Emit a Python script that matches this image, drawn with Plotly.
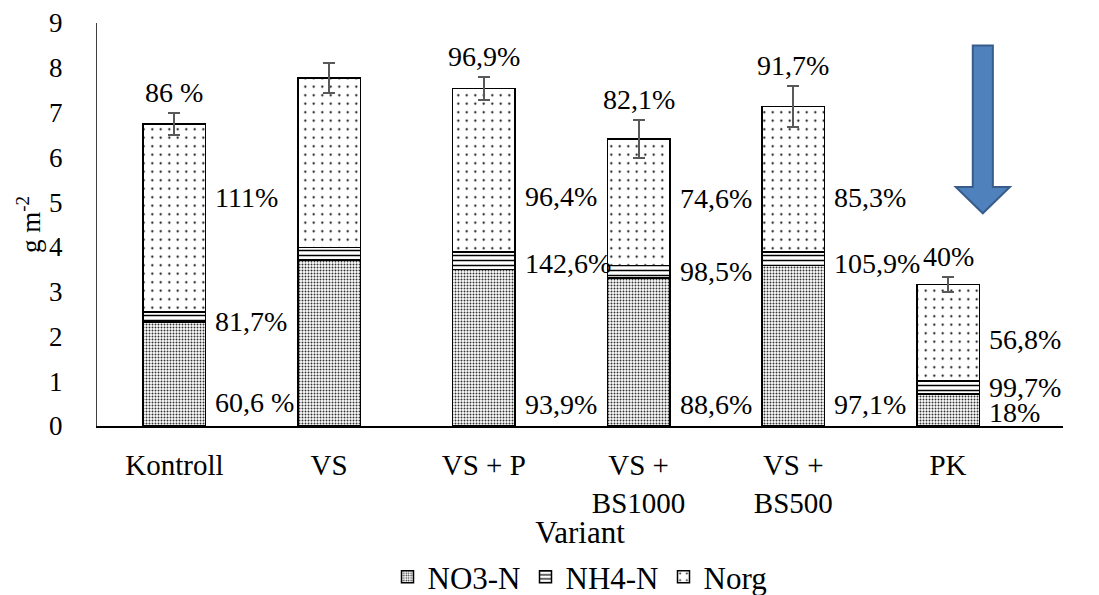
import plotly.graph_objects as go

# ---- data ----
categories = ["Kontroll", "VS", "VS + P", "VS +<br>BS1000", "VS +<br>BS500", "PK"]
no3 = [2.32, 3.71, 3.50, 3.31, 3.59, 0.71]
nh4 = [0.23, 0.28, 0.39, 0.28, 0.30, 0.30]
norg = [4.19, 3.78, 3.65, 2.82, 3.24, 2.15]
err = [0.24, 0.34, 0.25, 0.42, 0.46, 0.17]

top_labels = ["86 %", "", "96,9%", "82,1%", "91,7%", "40%"]
norg_labels = ["111%", "", "96,4%", "74,6%", "85,3%", "56,8%"]
nh4_labels = ["81,7%", "", "142,6%", "98,5%", "105,9%", "99,7%"]
no3_labels = ["60,6 %", "", "93,9%", "88,6%", "97,1%", "18%"]

# vertical positions (y units) of the hand-placed side labels
norg_label_y = [5.11, None, 5.13, 5.09, 5.11, 1.94]
nh4_label_y = [2.34, None, 3.64, 3.44, 3.62, 0.86]
no3_label_y = [0.52, None, 0.47, 0.47, 0.47, 0.31]

FONT = "Liberation Serif"

fig = go.Figure()
bar_line = dict(color="black", width=1.5)

fig.add_trace(go.Bar(
    name="NO3-N", x=categories, y=no3,
    marker=dict(color="white", line=bar_line,
                pattern=dict(shape=".", size=3, solidity=0.35, fgcolor="#333333",
                             bgcolor="white", fillmode="replace")),
))
fig.add_trace(go.Bar(
    name="NH4-N", x=categories, y=nh4,
    marker=dict(color="white", line=bar_line,
                pattern=dict(shape="-", size=5, solidity=0.3, fgcolor="black",
                             bgcolor="white", fillmode="replace")),
))
fig.add_trace(go.Bar(
    name="Norg", x=categories, y=norg,
    marker=dict(color="white", line=bar_line,
                pattern=dict(shape=".", size=8.5, solidity=0.05, fgcolor="black",
                             bgcolor="white", fillmode="replace")),
    error_y=dict(type="data", array=err, visible=True, color="#595959",
                 thickness=2, width=6),
))

totals = [a + b + c for a, b, c in zip(no3, nh4, norg)]
annotations = []
lab_font = dict(family=FONT, size=28, color="black")
for i, cat in enumerate(categories):
    if top_labels[i]:
        annotations.append(dict(x=cat, y=totals[i] + err[i], text=top_labels[i],
                                showarrow=False, xanchor="center", yanchor="bottom",
                                yshift=3, font=lab_font))
    for labs, ys in ((norg_labels, norg_label_y), (nh4_labels, nh4_label_y),
                     (no3_labels, no3_label_y)):
        if labs[i]:
            annotations.append(dict(x=cat, y=ys[i], text=labs[i], showarrow=False,
                                    xanchor="left", yanchor="middle", xshift=39,
                                    font=lab_font))

# decorative blue down arrow (paper x, data y)
cx = 0.917
sw = 0.0104
hw = 0.028
y_top, y_head, y_tip = 8.5, 5.34, 4.75
arrow_path = (f"M {cx - sw},{y_top} L {cx + sw},{y_top} L {cx + sw},{y_head} "
              f"L {cx + hw},{y_head} L {cx},{y_tip} L {cx - hw},{y_head} "
              f"L {cx - sw},{y_head} Z")

fig.update_layout(
    width=1099, height=595,
    margin=dict(l=97, r=36, t=23, b=169, autoexpand=False),
    barmode="stack", bargap=0.596,
    plot_bgcolor="white", paper_bgcolor="white",
    font=dict(family=FONT, color="black"),
    showlegend=True,
    legend=dict(orientation="h", x=0.5, xanchor="center", yref="container",
                y=0.03, yanchor="middle",
                font=dict(family=FONT, size=31), traceorder="normal",
                itemwidth=30),
    annotations=annotations,
    shapes=[dict(type="path", path=arrow_path, xref="paper", yref="y",
                 fillcolor="#4F81BD", line=dict(color="#385D8A", width=2))],
)
fig.update_xaxes(
    showline=True, linecolor="black", linewidth=2, ticks="", showgrid=False,
    automargin=False,
    tickfont=dict(family=FONT, size=29), ticklabelstandoff=12,
    title=dict(text="Variant", font=dict(family=FONT, size=31), standoff=0),
)
fig.update_yaxes(
    range=[0, 9], dtick=1, showline=True, linecolor="#404040", linewidth=1,
    showgrid=False, zeroline=False, ticks="", automargin=False,
    tickfont=dict(family=FONT, size=27), ticklabelstandoff=28,
    title=dict(text="g m<sup>-2</sup>", font=dict(family=FONT, size=27), standoff=0),
)

fig.write_html("out.html",
               config={"displayModeBar": False},
               post_script="document.body.style.margin='0px';"
                           "document.body.style.overflow='hidden';")
